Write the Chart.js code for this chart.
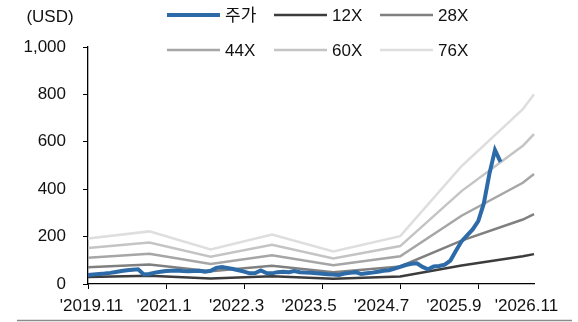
<!DOCTYPE html>
<html>
<head>
<meta charset="utf-8">
<script src="https://cdn.jsdelivr.net/npm/chart.js@4"></script>
<style>
  body { margin: 0; background: #fff; }
  canvas { display: block; }
</style>
</head>
<body>
<canvas id="bandChart" width="578" height="322"></canvas>
<script>
// monthly categories, '2019.11 .. '2026.7
const months = [
  "2019.11", "2019.12",
  "2020.1", "2020.2", "2020.3", "2020.4", "2020.5", "2020.6", "2020.7", "2020.8", "2020.9", "2020.10", "2020.11", "2020.12",
  "2021.1", "2021.2", "2021.3", "2021.4", "2021.5", "2021.6", "2021.7", "2021.8", "2021.9", "2021.10", "2021.11", "2021.12",
  "2022.1", "2022.2", "2022.3", "2022.4", "2022.5", "2022.6", "2022.7", "2022.8", "2022.9", "2022.10", "2022.11", "2022.12",
  "2023.1", "2023.2", "2023.3", "2023.4", "2023.5", "2023.6", "2023.7", "2023.8", "2023.9", "2023.10", "2023.11", "2023.12",
  "2024.1", "2024.2", "2024.3", "2024.4", "2024.5", "2024.6", "2024.7", "2024.8", "2024.9", "2024.10", "2024.11", "2024.12",
  "2025.1", "2025.2", "2025.3", "2025.4", "2025.5", "2025.6", "2025.7", "2025.8", "2025.9", "2025.10", "2025.11", "2025.12",
  "2026.1", "2026.2", "2026.3", "2026.4", "2026.5", "2026.6", "2026.7"
];

// x axis: label text and the category it is drawn under; tick marks sit on their own grid
const xTickLabels = ["'2019.11", "'2021.1", "'2022.3", "'2023.5", "'2024.7", "'2025.9", "'2026.11"];
const xLabelIndex = [1, 14, 27, 40, 53, 66, 79];
const xMarkIndex = [0, 14, 28, 42, 56, 70];

// share price (USD), one value per month
const price = [
  38, 40, 42, 44, 47, 51, 55, 58, 60, 62,
  40, 42, 48, 52, 55, 56, 57, 55, 54, 55,
  56, 52, 56, 68, 72, 68, 63, 58, 52, 45,
  46, 57, 46, 45, 50, 52, 50, 55, 50, 48,
  47, 45, 43, 41, 40, 38, 44, 47, 50, 42,
  45, 48, 52, 56, 58, 65, 72, 80, 85, 87,
  72, 62, 74, 76, 82, 99, 140, 180, 205, 230,
  265, 340, 465, 565, 515, null, null, null, null, null,
  null
];

// PER band lines: only the break points are known, straight lines between them
const bandIndex = [0, 11, 22, 33, 44, 56, 67, 78, 80];
const band12 = [30, 35, 23, 33, 22, 32, 78, 117, 126];
const band28 = [71, 82, 54, 77, 50, 74, 183, 272, 295];
const band44 = [111, 128, 84, 121, 79, 117, 288, 427, 464];
const band60 = [152, 175, 115, 165, 108, 160, 392, 583, 632];
const band76 = [192, 222, 146, 209, 137, 202, 497, 738, 801];

const yTicks = [0, 200, 400, 600, 800, 1000];

const FONT = "'Liberation Sans', 'Noto Sans CJK KR', sans-serif";
const FONT_SIZE = 17;

function toSeries(vals) {
  const out = months.map(() => null);
  bandIndex.forEach((idx, k) => { out[idx] = vals[k]; });
  return out;
}

const datasets = [
  { label: "주가", data: price, borderColor: "#2d6aa8", borderWidth: 4 },
  { label: "12X", data: toSeries(band12), borderColor: "#3c3c3c", borderWidth: 2.5, spanGaps: true },
  { label: "28X", data: toSeries(band28), borderColor: "#808080", borderWidth: 2.5, spanGaps: true },
  { label: "44X", data: toSeries(band44), borderColor: "#a6a6a6", borderWidth: 2.5, spanGaps: true },
  { label: "60X", data: toSeries(band60), borderColor: "#c4c4c4", borderWidth: 2.5, spanGaps: true },
  { label: "76X", data: toSeries(band76), borderColor: "#dedede", borderWidth: 2.5, spanGaps: true }
];
datasets.forEach(d => { d.pointRadius = 0; d.tension = 0; d.fill = false; });

// legend in a 3x2 grid, unit label and the bottom rule line
const extras = {
  id: "extras",
  afterDraw(chart) {
    const ctx = chart.ctx;
    ctx.save();
    ctx.font = FONT_SIZE + "px " + FONT;
    ctx.textBaseline = "middle";
    ctx.fillStyle = "#111";
    const cols = [167, 274, 380];
    const rows = [15, 50];
    chart.data.datasets.forEach((d, i) => {
      const x = cols[i % 3];
      const y = rows[Math.floor(i / 3)];
      ctx.strokeStyle = d.borderColor;
      ctx.lineWidth = d.borderWidth;
      ctx.beginPath();
      ctx.moveTo(x, y);
      ctx.lineTo(x + 53, y);
      ctx.stroke();
      ctx.textAlign = "left";
      ctx.fillText(d.label, x + 58, y + 1);
    });
    ctx.textAlign = "center";
    ctx.fillText("(USD)", 50, 17);
    ctx.strokeStyle = "#8c8c8c";
    ctx.lineWidth = 1.5;
    ctx.beginPath();
    ctx.moveTo(17, 320.5);
    ctx.lineTo(572, 320.5);
    ctx.stroke();
    ctx.restore();
  }
};

new Chart(document.getElementById("bandChart").getContext("2d"), {
  type: "line",
  data: { labels: months, datasets: datasets },
  options: {
    responsive: false,
    animation: false,
    devicePixelRatio: 1,
    layout: { padding: { top: 47, right: 44, bottom: 0, left: 0 } },
    plugins: { legend: { display: false }, tooltip: { enabled: false } },
    scales: {
      x: {
        type: "category",
        offset: false,
        grid: {
          drawOnChartArea: false,
          tickLength: 5,
          tickColor: c => xMarkIndex.indexOf(c.index) >= 0 ? "#000" : "rgba(0,0,0,0)"
        },
        border: { color: "#000", width: 1.3 },
        ticks: {
          autoSkip: false,
          maxRotation: 0,
          padding: 7,
          labelOffset: -2,
          color: "#111",
          font: { family: FONT, size: FONT_SIZE },
          callback: (v, i) => {
            const k = xLabelIndex.indexOf(i);
            return k >= 0 ? xTickLabels[k] : "";
          }
        },
        afterFit: s => { s.height = 38; }
      },
      y: {
        min: 0,
        max: 1000,
        afterBuildTicks: s => { s.ticks = yTicks.map(v => ({ value: v })); },
        grid: { drawOnChartArea: false, tickLength: 5, tickColor: "#000" },
        border: { color: "#000", width: 1.3 },
        ticks: {
          padding: 17,
          color: "#111",
          font: { family: FONT, size: FONT_SIZE },
          callback: v => v.toLocaleString("en-US")
        },
        afterFit: s => { s.width = 88; }
      }
    }
  },
  plugins: [extras]
});
</script>
</body>
</html>
